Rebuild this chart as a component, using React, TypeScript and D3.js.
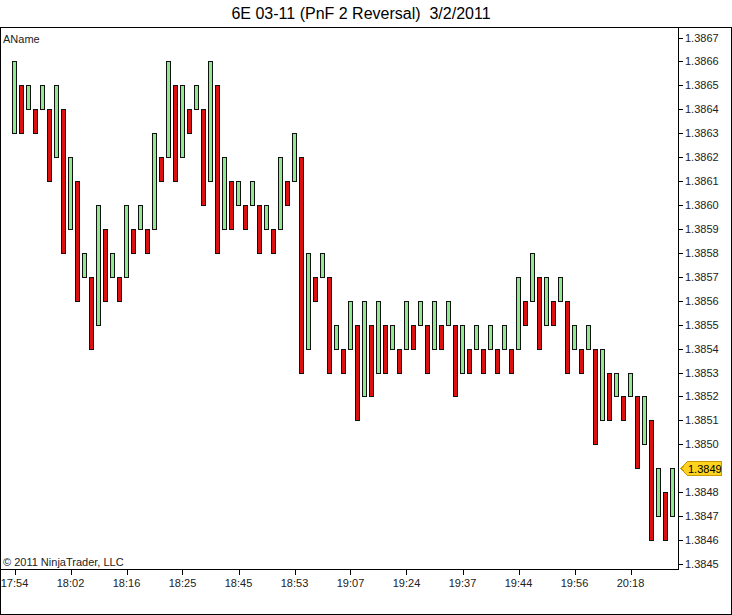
import { useEffect, useRef } from "react";
import * as d3 from "d3";

// PnF columns (open -> close)
const opens: number[] = [
  1.3863, 1.3865, 1.3864, 1.3864, 1.3864, 1.3864, 1.3862, 1.3864, 1.3859, 1.3861,
  1.3857, 1.3857, 1.3855, 1.3859, 1.3857, 1.3857, 1.3857, 1.3859, 1.3859, 1.3859,
  1.3859, 1.3862, 1.3862, 1.3865, 1.3862, 1.3864, 1.3864, 1.3864, 1.3861, 1.3865,
  1.3859, 1.3861, 1.386, 1.386, 1.386, 1.386, 1.3859, 1.3859, 1.3859, 1.3861,
  1.3861, 1.3862, 1.3854, 1.3857, 1.3857, 1.3857, 1.3854, 1.3854, 1.3854, 1.3855,
  1.3852, 1.3855, 1.3853, 1.3855, 1.3854, 1.3854, 1.3854, 1.3855, 1.3855, 1.3855,
  1.3854, 1.3855, 1.3855, 1.3855, 1.3853, 1.3854, 1.3854, 1.3854, 1.3854, 1.3854,
  1.3854, 1.3854, 1.3854, 1.3856, 1.3856, 1.3857, 1.3855, 1.3856, 1.3856, 1.3856,
  1.3854, 1.3854, 1.3854, 1.3854, 1.3851, 1.3853, 1.3852, 1.3852, 1.3852, 1.3852,
  1.385, 1.3851, 1.3847, 1.3848, 1.3847,
];

const closes: number[] = [
  1.3866, 1.3863, 1.3865, 1.3863, 1.3865, 1.3861, 1.3865, 1.3858, 1.3862, 1.3856,
  1.3858, 1.3854, 1.386, 1.3856, 1.3858, 1.3856, 1.386, 1.3858, 1.386, 1.3858,
  1.3863, 1.3861, 1.3866, 1.3861, 1.3865, 1.3863, 1.3865, 1.386, 1.3866, 1.3858,
  1.3862, 1.3859, 1.3861, 1.3859, 1.3861, 1.3858, 1.386, 1.3858, 1.3862, 1.386,
  1.3863, 1.3853, 1.3858, 1.3856, 1.3858, 1.3853, 1.3855, 1.3853, 1.3856, 1.3851,
  1.3856, 1.3852, 1.3856, 1.3853, 1.3855, 1.3853, 1.3856, 1.3854, 1.3856, 1.3853,
  1.3856, 1.3854, 1.3856, 1.3852, 1.3855, 1.3853, 1.3855, 1.3853, 1.3855, 1.3853,
  1.3855, 1.3853, 1.3857, 1.3855, 1.3858, 1.3854, 1.3857, 1.3855, 1.3857, 1.3853,
  1.3855, 1.3853, 1.3855, 1.385, 1.3854, 1.3851, 1.3853, 1.3851, 1.3853, 1.3849,
  1.3852, 1.3846, 1.3849, 1.3846, 1.3849,
];

const timeLabels: string[] = [
  "17:54", "18:02", "18:16", "18:25", "18:45", "18:53",
  "19:07", "19:24", "19:37", "19:44", "19:56", "20:18",
];
const timeLabelEvery = 8;

const priceTicks: number[] = d3.range(22, -1, -1).map((k) => 1.3845 + k * 0.0001);
const lastPrice = 1.3849;

const FONT = "'Liberation Sans', Arial, sans-serif";

export default function App() {
  const svgRef = useRef<SVGSVGElement>(null);

  useEffect(() => {
    if (!svgRef.current) return;
    const W = 732;
    const H = 615;
    const plot = { left: 0.5, right: 678.5, top: 27.5, bottom: 569.5 };

    const svg = d3.select(svgRef.current);
    svg.selectAll("*").remove();
    svg.attr("width", W).attr("height", H).attr("viewBox", `0 0 ${W} ${H}`);

    const x = d3
      .scaleLinear()
      .domain([0, opens.length - 1])
      .range([14.5, 672.5]);

    const y = d3.scaleLinear().domain([1.3845, 1.3867]).range([564, 37.5]);

    // Title
    svg
      .append("text")
      .attr("x", 361)
      .attr("y", 19)
      .attr("text-anchor", "middle")
      .attr("font-family", FONT)
      .attr("font-size", 16)
      .attr("fill", "#000")
      .style("white-space", "pre")
      .text("6E 03-11 (PnF 2 Reversal)  3/2/2011");

    // Frame
    svg
      .append("rect")
      .attr("x", 0.5)
      .attr("y", 27.5)
      .attr("width", 730.5)
      .attr("height", 586.5)
      .attr("fill", "#fff")
      .attr("stroke", "#000");

    svg
      .append("rect")
      .attr("x", plot.left)
      .attr("y", plot.top)
      .attr("width", plot.right - plot.left)
      .attr("height", plot.bottom - plot.top)
      .attr("fill", "none")
      .attr("stroke", "#000");

    // Bars
    svg
      .append("g")
      .selectAll("rect")
      .data(opens.map((o, i) => ({ i, open: o, close: closes[i] })))
      .join("rect")
      .attr("x", (d) => x(d.i) - 2)
      .attr("width", 4)
      .attr("y", (d) => Math.round(y(Math.max(d.open, d.close))) + 0.5)
      .attr(
        "height",
        (d) =>
          Math.round(y(Math.min(d.open, d.close))) -
          Math.round(y(Math.max(d.open, d.close)))
      )
      .attr("fill", (d) => (d.close > d.open ? "#90e890" : "#dd1010"))
      .attr("stroke", "#111")
      .attr("stroke-width", 1);

    // Right price axis
    const yAxis = svg.append("g");
    yAxis
      .selectAll("line")
      .data(priceTicks.filter((p) => Math.abs(p - lastPrice) > 1e-6))
      .join("line")
      .attr("x1", 678)
      .attr("x2", 683)
      .attr("y1", (d) => Math.round(y(d)) + 0.5)
      .attr("y2", (d) => Math.round(y(d)) + 0.5)
      .attr("stroke", "#000");
    yAxis
      .selectAll("text")
      .data(priceTicks.filter((p) => Math.abs(p - lastPrice) > 1e-6))
      .join("text")
      .attr("x", 685)
      .attr("y", (d) => y(d) + 4)
      .attr("font-family", FONT)
      .attr("font-size", 11)
      .attr("fill", "#222")
      .text((d) => d3.format(".4f")(d));

    // Last price marker
    const my = Math.round(y(lastPrice)) + 0.5;
    svg
      .append("path")
      .attr(
        "d",
        `M681,${my} L687.5,${my - 7} L721.5,${my - 7} L721.5,${my + 7} L687.5,${my + 7} Z`
      )
      .attr("fill", "#ffd21f")
      .attr("stroke", "#c79a00");
    svg
      .append("text")
      .attr("x", 688)
      .attr("y", my + 4)
      .attr("font-family", FONT)
      .attr("font-size", 11)
      .attr("fill", "#000")
      .text(d3.format(".4f")(lastPrice));

    // Bottom time axis
    const xAxis = svg.append("g");
    const tickIdx = timeLabels.map((_, k) => k * timeLabelEvery);
    xAxis
      .selectAll("line")
      .data(tickIdx)
      .join("line")
      .attr("x1", (d) => Math.round(x(d)) + 0.5)
      .attr("x2", (d) => Math.round(x(d)) + 0.5)
      .attr("y1", 569)
      .attr("y2", 575)
      .attr("stroke", "#000");
    xAxis
      .selectAll("text")
      .data(tickIdx)
      .join("text")
      .attr("x", (d) => x(d))
      .attr("y", 587)
      .attr("text-anchor", "middle")
      .attr("font-family", FONT)
      .attr("font-size", 11)
      .attr("fill", "#222")
      .text((_, k) => timeLabels[k]);

    // Labels inside the plot
    svg
      .append("text")
      .attr("x", 3)
      .attr("y", 43)
      .attr("font-family", FONT)
      .attr("font-size", 11)
      .attr("fill", "#222")
      .text("AName");

    svg
      .append("text")
      .attr("x", 3)
      .attr("y", 566)
      .attr("font-family", FONT)
      .attr("font-size", 11)
      .attr("fill", "#222")
      .text("© 2011 NinjaTrader, LLC");
  }, []);

  return (
    <svg
      ref={svgRef}
      style={{ position: "absolute", left: 0, top: 0, background: "#fff" }}
      shapeRendering="crispEdges"
    />
  );
}
